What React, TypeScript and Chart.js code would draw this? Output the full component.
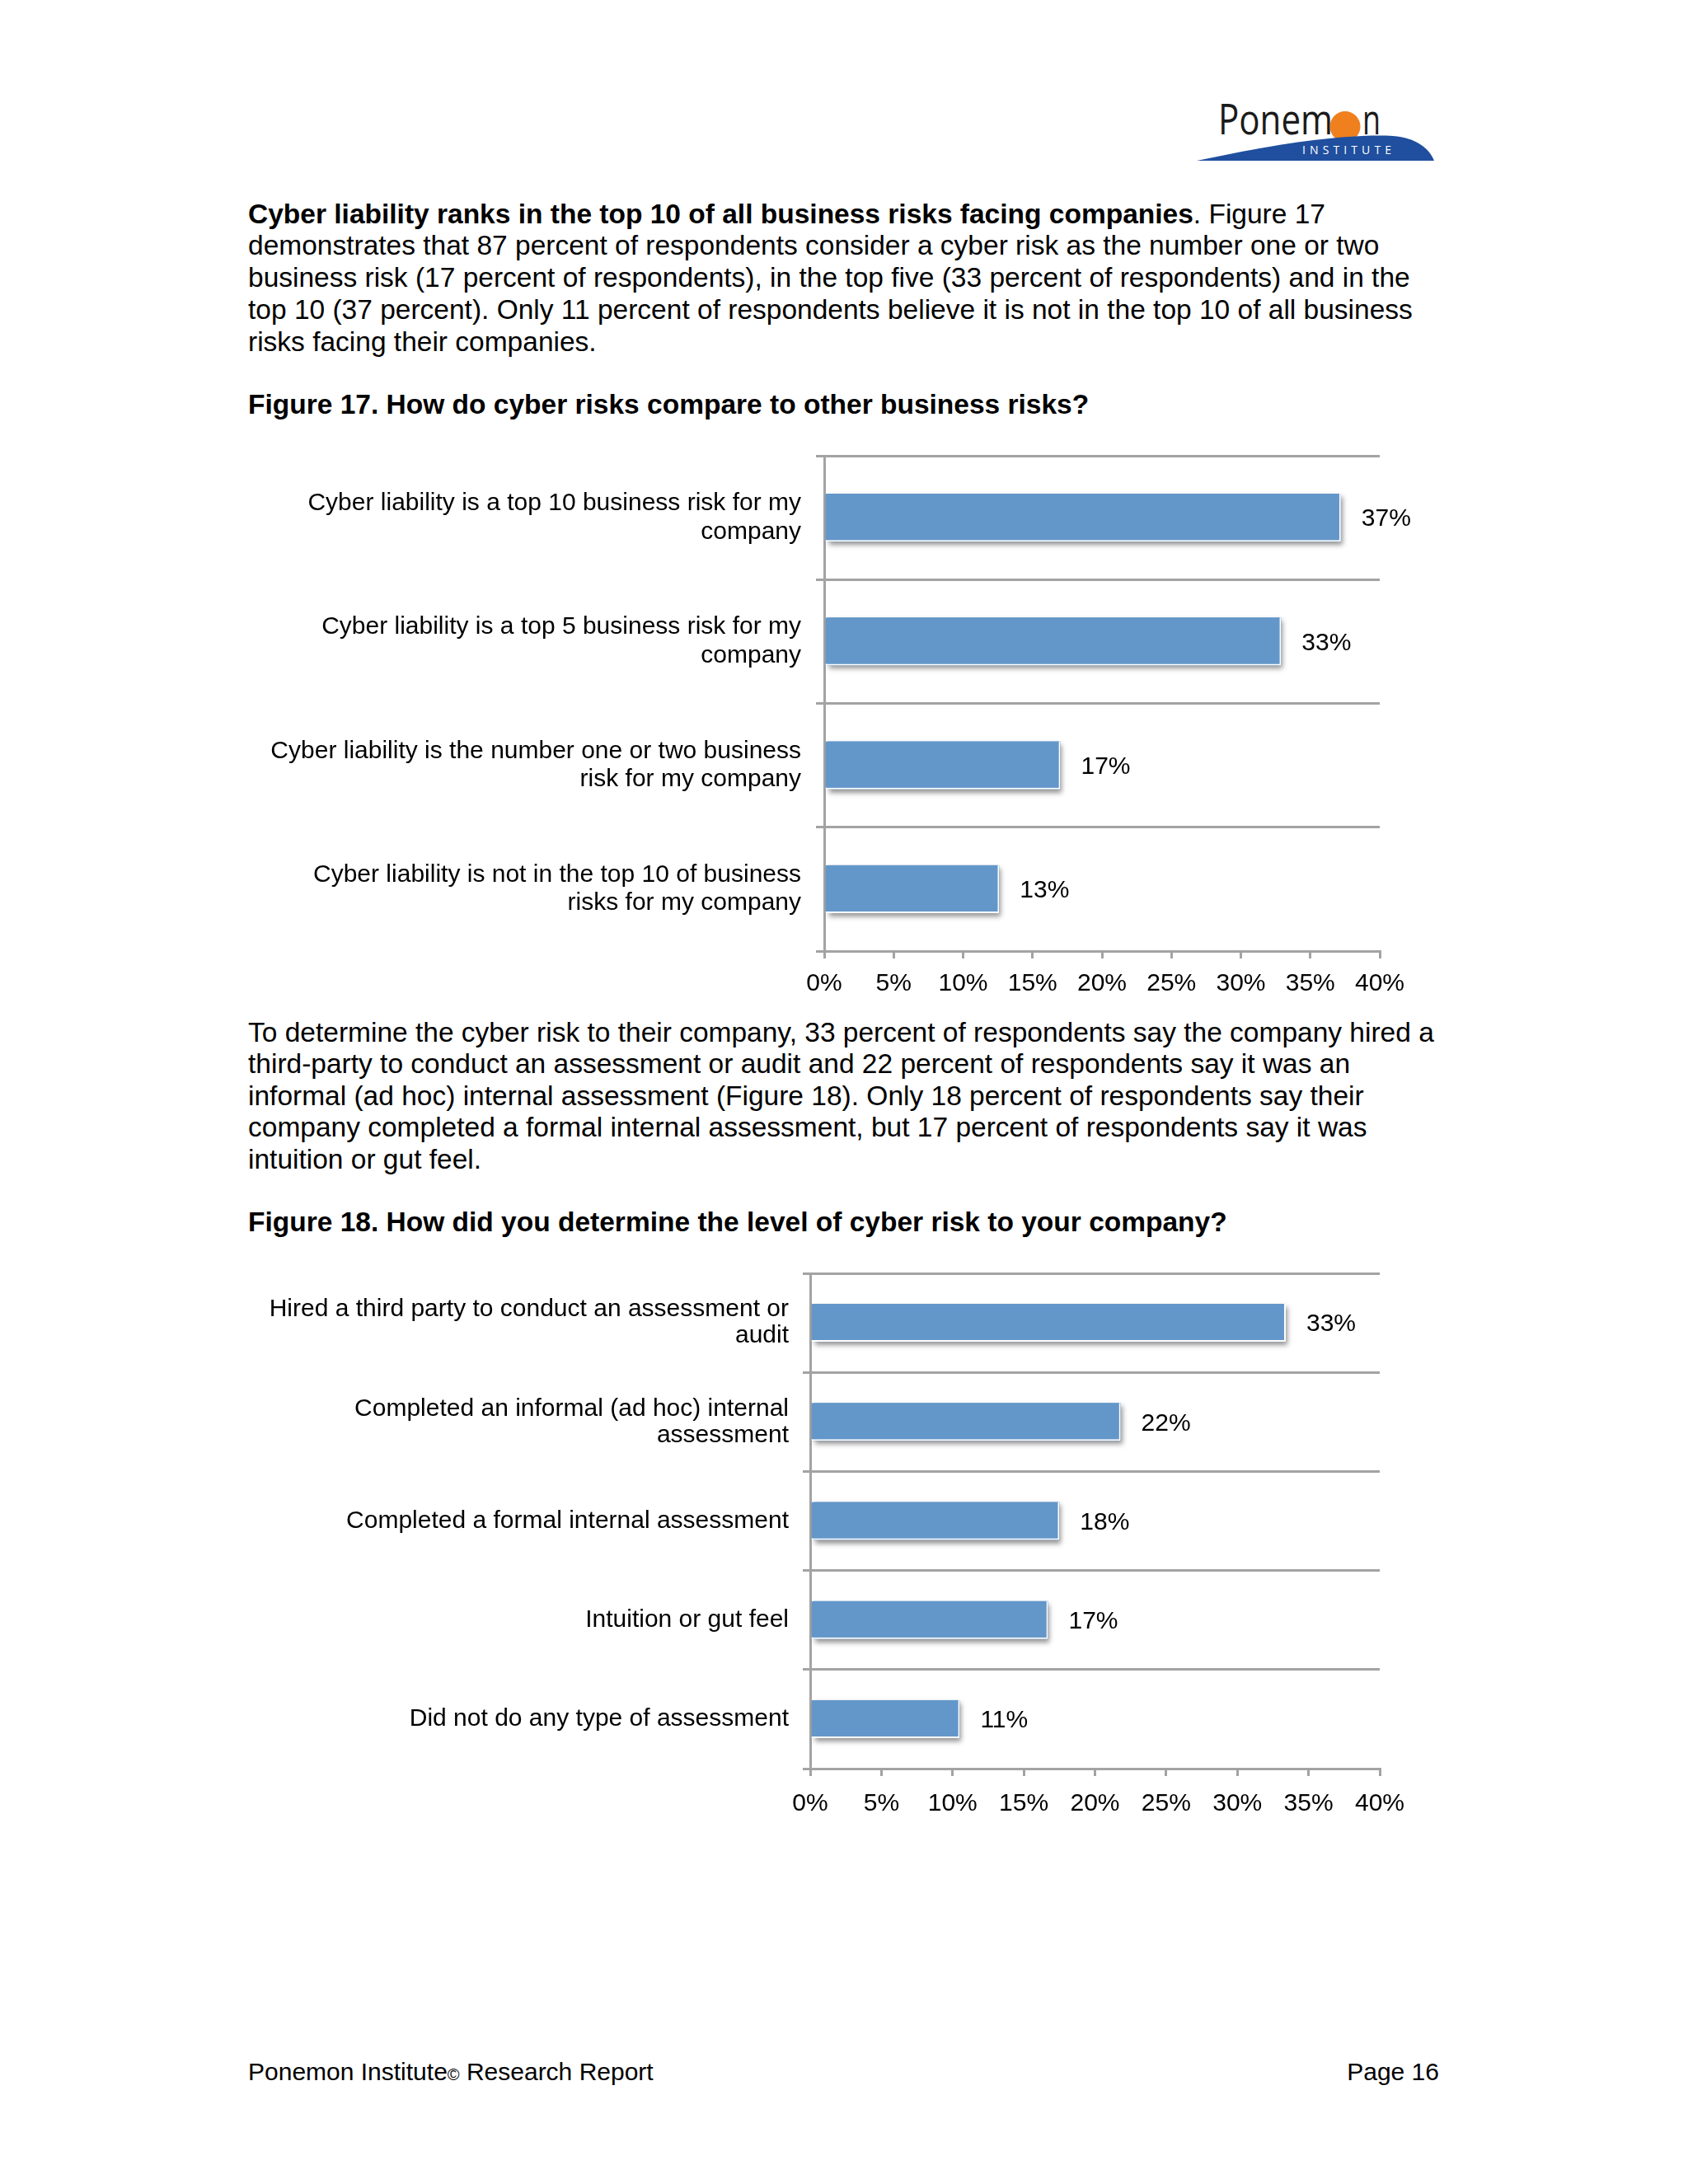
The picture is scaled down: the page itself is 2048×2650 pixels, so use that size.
import React, { useEffect, useRef } from "react";
import { Chart, registerables } from "chart.js";

Chart.register(...registerables);

// ---------- Data ----------
const fig17Categories: string[][] = [
  ["Cyber liability is a top 10 business risk for my", "company"],
  ["Cyber liability is a top 5 business risk for my", "company"],
  ["Cyber liability is the number one or two business", "risk for my company"],
  ["Cyber liability is not in the top 10 of business", "risks for my company"],
];
const fig17Values: number[] = [37.2, 32.9, 17.0, 12.6];

const fig18Categories: (string | string[])[] = [
  ["Hired a third party to conduct an assessment or", "audit"],
  ["Completed an informal (ad hoc) internal", "assessment"],
  "Completed a formal internal assessment",
  "Intuition or gut feel",
  "Did not do any type of assessment",
];
const fig18Values: number[] = [33.4, 21.8, 17.5, 16.7, 10.5];

const axisMin = 0;
const axisMax = 40;
const axisStep = 5;

// ---------- Styles ----------
const FONT = "'Liberation Sans', Arial, Helvetica, sans-serif";
const BAR_COLOR = "#6497C9";
const AXIS_COLOR = "#A3A3A3";

const barDecor = {
  id: "barDecor",
  beforeDatasetsDraw(chart: any) {
    // soft drop shadow under each bar (positions taken from the bar elements)
    const ctx = chart.ctx;
    const meta = chart.getDatasetMeta(0);
    ctx.save();
    ctx.shadowColor = "rgba(0,0,0,0.42)";
    ctx.shadowBlur = 6;
    ctx.shadowOffsetX = 2;
    ctx.shadowOffsetY = 4;
    ctx.fillStyle = BAR_COLOR;
    meta.data.forEach((bar: any) => {
      const { x, y, base, height } = bar.getProps(["x", "y", "base", "height"], true);
      ctx.fillRect(base + 2, y - height / 2, x - base - 2, height);
    });
    ctx.restore();
  },
  afterDatasetsDraw(chart: any) {
    const ctx = chart.ctx;
    ctx.save();
    ctx.font = `30px ${FONT}`;
    ctx.fillStyle = "#000";
    ctx.textAlign = "left";
    ctx.textBaseline = "middle";
    const meta = chart.getDatasetMeta(0);
    const data = chart.data.datasets[0].data as number[];
    meta.data.forEach((bar: any, i: number) => {
      ctx.fillText(`${Math.round(data[i])}%`, bar.x + 25, bar.y + 2);
    });
    ctx.restore();
  },
};

type ChartProps = {
  categories: (string | string[])[];
  values: number[];
  left: number;
  top: number;
  width: number;
  height: number;
  padTop: number;
  padRight: number;
  yWidth: number;
  xHeight: number;
  barPct: number;
  catTick: number;
  catPad: number;
  lineHeight: number;
  xPad: number;
};

function BarChart(p: ChartProps) {
  const ref = useRef<HTMLCanvasElement | null>(null);
  useEffect(() => {
    if (!ref.current) return;
    const chart = new Chart(ref.current, {
      type: "bar",
      data: {
        labels: p.categories as any,
        datasets: [
          {
            data: p.values,
            backgroundColor: BAR_COLOR,
            borderColor: "#FFFFFF",
            borderWidth: { top: 0, left: 0, right: 2, bottom: 2 } as any,
            borderSkipped: false,
            barPercentage: p.barPct,
            categoryPercentage: 1,
          },
        ],
      },
      options: {
        indexAxis: "y",
        responsive: false,
        maintainAspectRatio: false,
        animation: false,
        devicePixelRatio: 1,
        layout: { padding: { top: p.padTop, right: p.padRight, left: 0, bottom: 0 } },
        plugins: { legend: { display: false }, tooltip: { enabled: false }, title: { display: false } },
        scales: {
          x: {
            type: "linear",
            min: axisMin,
            max: axisMax,
            ticks: {
              stepSize: axisStep,
              callback: (v: any) => `${v}%`,
              color: "#000",
              font: { family: FONT, size: 30 },
              padding: p.xPad,
            },
            grid: { drawOnChartArea: false, drawTicks: true, tickLength: 9, color: AXIS_COLOR, lineWidth: 3 },
            border: { color: AXIS_COLOR, width: 3 },
            afterFit: (s: any) => {
              s.height = p.xHeight;
            },
          },
          y: {
            type: "category",
            ticks: {
              color: "#000",
              font: { family: FONT, size: 30, lineHeight: p.lineHeight },
              padding: p.catPad,
              autoSkip: false,
            },
            grid: { offset: true, color: AXIS_COLOR, lineWidth: 3, tickLength: p.catTick, drawOnChartArea: true },
            border: { color: AXIS_COLOR, width: 3 },
            afterFit: (s: any) => {
              s.width = p.yWidth;
              s.paddingTop = 0;
              s.paddingBottom = 0;
            },
          },
        },
      },
      plugins: [barDecor],
    } as any);
    return () => chart.destroy();
  }, []);
  return (
    <canvas
      ref={ref}
      width={p.width}
      height={p.height}
      style={{ position: "absolute", left: p.left, top: p.top, width: p.width, height: p.height }}
    />
  );
}

function Logo() {
  return (
    <svg
      width={310}
      height={95}
      viewBox="0 0 310 95"
      style={{ position: "absolute", left: 1440, top: 110 }}
    >
      <text x={38} y={53} fontFamily="'Open Sans', 'Noto Sans', sans-serif" fontSize={52} fill="#1b1b1b" textLength={139} lengthAdjust="spacingAndGlyphs">
        Ponem
      </text>
      <circle cx={192} cy={43.5} r={18.5} fill="#F07F1E" />
      <text x={213} y={53} fontFamily="'Open Sans', 'Noto Sans', sans-serif" fontSize={52} fill="#1b1b1b" textLength={22} lengthAdjust="spacingAndGlyphs">
        n
      </text>
      <path d="M 12 85 C 100 66, 190 52, 250 55 C 278 57, 294 70, 300 85 Z" fill="#1F4F9E" />
      <text x={140} y={77} fontFamily="'Open Sans', 'Noto Sans', sans-serif" fontSize={14} fill="#FFFFFF" textLength={108} lengthAdjust="spacing">
        INSTITUTE
      </text>
    </svg>
  );
}

const bodyStyle: React.CSSProperties = {
  position: "absolute",
  left: 301,
  fontFamily: FONT,
  fontSize: 33.5,
  lineHeight: "38.9px",
  color: "#000",
  whiteSpace: "nowrap",
  margin: 0,
};

export default function App() {
  return (
    <div style={{ position: "absolute", left: 0, top: 0, width: 2048, height: 2650, background: "#fff", overflow: "hidden" }}>
      <Logo />
      <div style={{ ...bodyStyle, top: 240.5 }}>
        <b>Cyber liability ranks in the top 10 of all business risks facing companies</b>. Figure 17
        <br />
        demonstrates that 87 percent of respondents consider a cyber risk as the number one or two
        <br />
        business risk (17 percent of respondents), in the top five (33 percent of respondents) and in the
        <br />
        top 10 (37 percent). Only 11 percent of respondents believe it is not in the top 10 of all business
        <br />
        risks facing their companies.
      </div>
      <div style={{ ...bodyStyle, top: 471.5, fontWeight: "bold" }}>
        Figure 17. How do cyber risks compare to other business risks?
      </div>
      <BarChart
        categories={fig17Categories}
        values={fig17Values}
        left={300}
        top={520}
        width={1440}
        height={700}
        padTop={33}
        padRight={66}
        yWidth={700}
        xHeight={66}
        barPct={0.387}
        catTick={10}
        catPad={18}
        lineHeight={1.15}
        xPad={13}
      />
      <div style={{ ...bodyStyle, top: 1233.5, lineHeight: "38.5px" }}>
        To determine the cyber risk to their company, 33 percent of respondents say the company hired a
        <br />
        third-party to conduct an assessment or audit and 22 percent of respondents say it was an
        <br />
        informal (ad hoc) internal assessment (Figure 18). Only 18 percent of respondents say their
        <br />
        company completed a formal internal assessment, but 17 percent of respondents say it was
        <br />
        intuition or gut feel.
      </div>
      <div style={{ ...bodyStyle, top: 1463.5, fontWeight: "bold" }}>
        Figure 18. How did you determine the level of cyber risk to your company?
      </div>
      <BarChart
        categories={fig18Categories}
        values={fig18Values}
        left={300}
        top={1510}
        width={1440}
        height={720}
        padTop={35}
        padRight={66}
        yWidth={683}
        xHeight={84}
        barPct={0.383}
        catTick={9}
        catPad={17}
        lineHeight={1.07}
        xPad={16}
      />
      <div style={{ position: "absolute", left: 301, top: 2496, fontFamily: FONT, fontSize: 30, lineHeight: "35px", whiteSpace: "nowrap" }}>
        Ponemon Institute<span style={{ fontSize: 20 }}>©</span> Research Report
      </div>
      <div style={{ position: "absolute", right: 2048 - 1746, top: 2496, fontFamily: FONT, fontSize: 30, lineHeight: "35px", whiteSpace: "nowrap" }}>
        Page 16
      </div>
    </div>
  );
}
